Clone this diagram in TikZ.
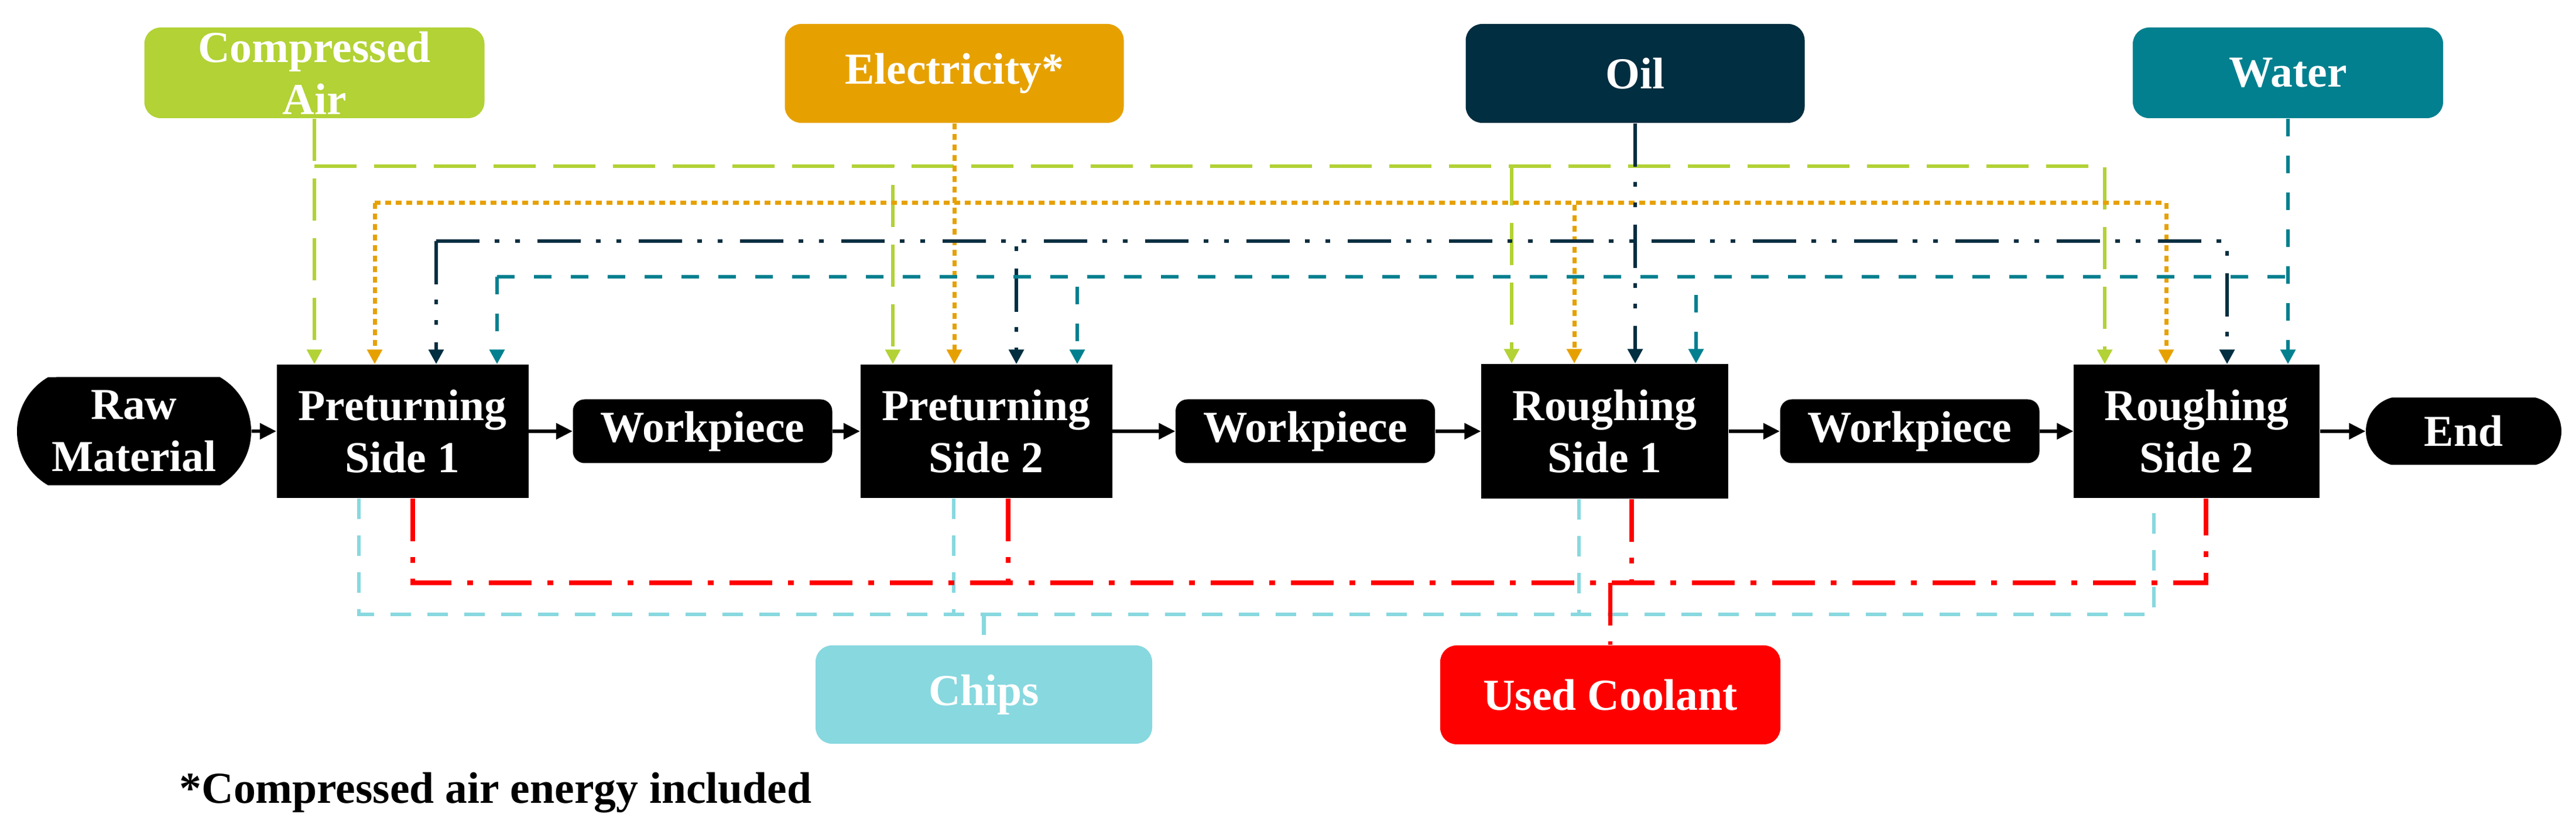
\documentclass[tikz,border=0pt]{standalone}
\usepackage{fontspec}
\setmainfont{Liberation Serif}
\usetikzlibrary{arrows.meta,shapes.misc}

\definecolor{airgreen}{HTML}{B2D235}
\definecolor{eleorange}{HTML}{E6A100}
\definecolor{oilnavy}{HTML}{012E40}
\definecolor{waterteal}{HTML}{02808F}
\definecolor{chipcyan}{HTML}{88D8DF}
\definecolor{coolred}{HTML}{FF0000}

\tikzset{
  lbl/.style={text=white, font=\fontsize{21.5}{25.3}\selectfont\bfseries, align=center, inner sep=0pt},
  proc/.style={lbl, fill=black, minimum width=4.3cm, minimum height=2.28cm},
  wpbox/.style={lbl, fill=black, rounded corners=0.2cm, minimum width=4.43cm, minimum height=1.09cm},
  term/.style={lbl, fill=black, rounded rectangle},
  src/.style={lbl, rounded corners=0.28cm},
  flow/.style={-{Triangle[length=0.28cm,width=0.27cm]}, line width=0.055cm},
  into/.style={-{Triangle[length=0.25cm,width=0.25cm]}},
  airline/.style={airgreen, line width=0.065cm, dash pattern=on 0.72cm off 0.3cm},
  eleline/.style={eleorange, line width=0.07cm, dash pattern=on 0.1cm off 0.08cm},
  oilline/.style={oilnavy, line width=0.065cm, dash pattern=on 0.74cm off 0.26cm on 0.08cm off 0.27cm on 0.08cm off 0.3cm},
  waterline/.style={waterteal, line width=0.065cm, dash pattern=on 0.3cm off 0.33cm},
  chipline/.style={chipcyan, line width=0.065cm, dash pattern=on 0.35cm off 0.28cm},
  redline/.style={coolred, line width=0.075cm, dash pattern=on 0.73cm off 0.27cm on 0.1cm off 0.27cm},
}

\begin{document}
\begin{tikzpicture}
\useasboundingbox (0,0) rectangle (44,14.26);

% process chain
\node[term, minimum width=4cm, minimum height=1.85cm, rounded rectangle arc length=120] (raw) at (2.29,6.89) {Raw\\Material};
\node[proc] (ps1) at (6.875,6.89) {Preturning\\Side 1};
\node[wpbox] (wp1) at (12.0,6.89) {Workpiece};
\node[proc] (ps2) at (16.845,6.89) {Preturning\\Side 2};
\node[wpbox] (wp2) at (22.295,6.89) {Workpiece};
\node[proc, minimum width=4.22cm, minimum height=2.3cm] (rs1) at (27.41,6.89) {Roughing\\Side 1};
\node[wpbox] (wp3) at (32.62,6.89) {Workpiece};
\node[proc, minimum width=4.2cm] (rs2) at (37.52,6.89) {Roughing\\Side 2};
\node[term, minimum width=3.34cm, minimum height=1.15cm, rounded rectangle arc length=150] (fin) at (42.08,6.89) {End};

% inputs
\node[src, fill=airgreen, minimum width=5.81cm, minimum height=1.55cm] (air) at (5.37,13.015) {Compressed\\Air};
\node[src, fill=eleorange, minimum width=5.79cm, minimum height=1.69cm] (ele) at (16.30,13.005) {Electricity*};
\node[src, fill=oilnavy, minimum width=5.79cm, minimum height=1.69cm] (oil) at (27.93,13.005) {Oil};
\node[src, fill=waterteal, minimum width=5.30cm, minimum height=1.55cm] (water) at (39.08,13.015) {Water};

% outputs
\node[src, fill=chipcyan, minimum width=5.75cm, minimum height=1.68cm] (chips) at (16.805,2.39) {Chips};
\node[src, fill=coolred, minimum width=5.81cm, minimum height=1.69cm] (cool) at (27.505,2.385) {Used Coolant};

\node[anchor=base west, font=\fontsize{21.5}{25.3}\selectfont\bfseries, inner sep=0pt] (note) at (3.06,0.54) {*Compressed air energy included};

\draw (raw) edge[flow] (ps1);
\draw (ps1) edge[flow] (wp1);
\draw (wp1) edge[flow] (ps2);
\draw (ps2) edge[flow] (wp2);
\draw (wp2) edge[flow] (rs1);
\draw (rs1) edge[flow] (wp3);
\draw (wp3) edge[flow] (rs2);
\draw (rs2) edge[flow] (fin);

% ports on top (a,e,o,w) and bottom (c,r)
\foreach \n/\xa/\xe/\xo/\xw/\xc/\xr in {ps1/5.37/6.40/7.45/8.49/6.13/7.05,
    ps2/15.25/16.30/17.36/18.40/16.29/17.22,
    rs1/25.82/26.89/27.93/28.97/26.97/27.87,
    rs2/35.95/37.00/38.04/39.08/36.79/37.68} {
  \coordinate (\n-a) at (\xa,0 |- \n.north);
  \coordinate (\n-e) at (\xe,0 |- \n.north);
  \coordinate (\n-o) at (\xo,0 |- \n.north);
  \coordinate (\n-w) at (\xw,0 |- \n.north);
  \coordinate (\n-c) at (\xc,0 |- \n.south);
  \coordinate (\n-r) at (\xr,0 |- \n.south);
}

% compressed air
\coordinate (airbus) at (5.37,11.42);
\draw[airline, into] (air.south) -- (ps1-a);
\foreach \n in {ps2,rs1,rs2}
  \draw[airline, into] (airbus) -| (\n-a);

% electricity
\coordinate (elebus) at (6.40,10.79);
\draw[eleline, into] (ele.south) -- (ps2-e);
\draw[eleline, into] (elebus) -- (ps1-e);
\foreach \n in {rs1,rs2}
  \draw[eleline, into] (elebus) -| (\n-e);

% oil
\coordinate (oilbus) at (7.45,10.14);
\draw[oilline, into] (oil.south) -- (rs1-o);
\draw[oilline, into] (oilbus) -- (ps1-o);
\foreach \n in {ps2,rs2}
  \draw[oilline, into] (oilbus) -| (\n-o);

% water
\coordinate (waterbus) at (8.49,9.53);
\draw[waterline, into] (water.south) -- (rs2-w);
\draw[waterline, into] (waterbus) -- (ps1-w);
\foreach \n in {ps2,rs1}
  \draw[waterline, into] (waterbus) -| (\n-w);
\draw[waterline] (waterbus) -- (waterbus -| water.south);

% chips
\draw[chipline] (ps1-c) |- (rs2-c |- 0,3.76) -- (rs2-c);
\draw[chipline] (ps2-c) -- (ps2-c |- 0,3.76);
\draw[chipline] (rs1-c) -- (rs1-c |- 0,3.76);
\draw[chipline] (chips.north |- 0,3.76) -- (chips.north);

% used coolant
\draw[redline] (ps1-r) |- (rs2-r |- 0,4.30) -- (rs2-r);
\draw[redline] (ps2-r) -- (ps2-r |- 0,4.30);
\draw[redline] (rs1-r) -- (rs1-r |- 0,4.30);
\draw[redline] (cool.north |- 0,4.30) -- (cool.north);

\end{tikzpicture}
\end{document}
